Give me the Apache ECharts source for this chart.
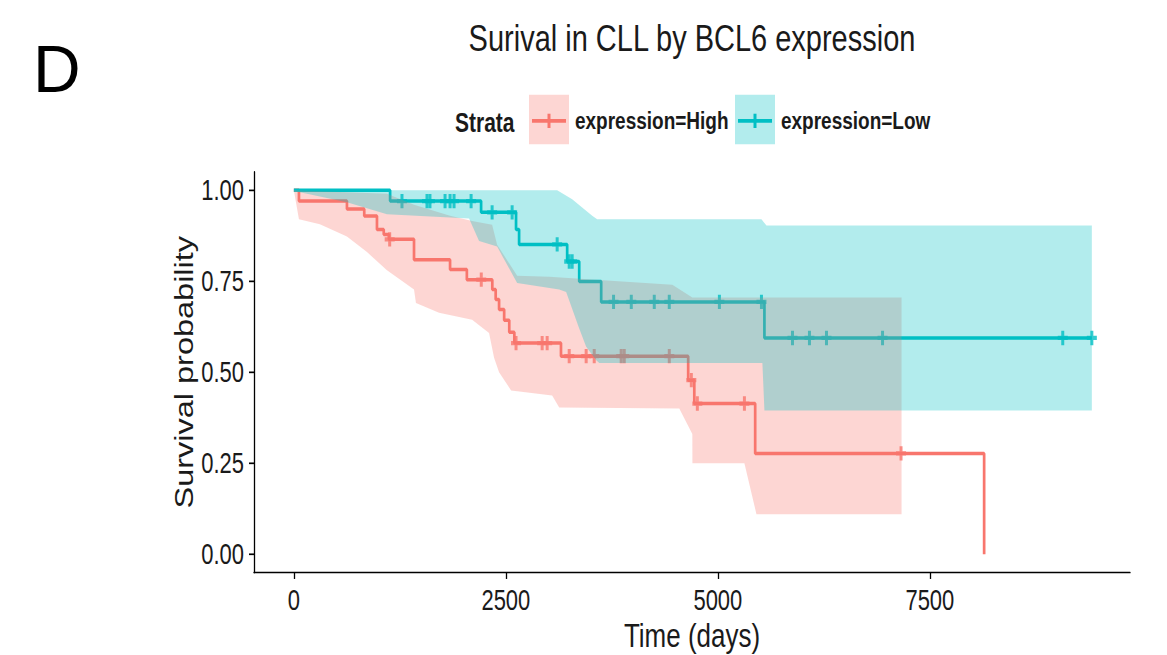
<!DOCTYPE html>
<html>
<head>
<meta charset="utf-8">
<script src="https://cdn.jsdelivr.net/npm/echarts@6/dist/echarts.min.js"></script>
<style>
html, body { margin: 0; padding: 0; background: #fff; overflow: hidden; }
#wrap { width: 1167px; height: 655px; position: relative; }
/* the source figure is stretched vertically, so the whole chart is too */
#main { width: 1167px; height: 504px; transform: scaleY(1.2996); transform-origin: 0 0; }
</style>
</head>
<body>
<div id="wrap"><div id="main"></div></div>
<script>
var xTicks = [0, 2500, 5000, 7500];
var yTicks = [0, 0.25, 0.5, 0.75, 1];
var strata = ['expression=High', 'expression=Low'];

// KM curve, [days, survival]
var highCurve = [[0, 1], [60, 0.97], [626, 0.948], [830, 0.929], [980, 0.892], [1060, 0.878], [1120, 0.865],
    [1417, 0.809], [1842, 0.782], [2040, 0.754], [2340, 0.727], [2380, 0.70], [2420, 0.672], [2480, 0.643],
    [2540, 0.61], [2600, 0.58], [3150, 0.544], [4650, 0.478], [4722, 0.414], [5440, 0.277], [8140, 0]];
var highCensor = [[1130, 0.865], [2210, 0.754], [2620, 0.58], [2928, 0.58], [2987, 0.58], [3247, 0.544],
    [3447, 0.544], [3542, 0.544], [3860, 0.544], [3896, 0.544], [4427, 0.544], [4687, 0.478], [4758, 0.414],
    [5313, 0.414], [7160, 0.277]];
var highUpper = [[0, 1], [1098, 0.99], [1417, 0.96], [1842, 0.93], [2102, 0.915], [2338, 0.905], [2397, 0.85],
    [2633, 0.765], [3011, 0.762], [4463, 0.74], [4699, 0.705], [7166, 0.705]];
var highLower = [[0, 1], [60, 0.92], [307, 0.906], [626, 0.873], [862, 0.83], [1098, 0.78], [1417, 0.727],
    [1440, 0.69], [1712, 0.663], [2102, 0.644], [2302, 0.608], [2361, 0.54], [2420, 0.50], [2562, 0.45],
    [3046, 0.436], [3129, 0.403], [4545, 0.40], [4699, 0.33], [4700, 0.25], [5313, 0.25], [5455, 0.11], [7166, 0.11]];

var lowCurve = [[0, 1], [1135, 0.97], [2208, 0.939], [2620, 0.892], [2656, 0.851], [3223, 0.804], [3365, 0.749],
    [3624, 0.693], [5549, 0.594], [9410, 0.594]];
var lowCensor = [[1275, 0.97], [1570, 0.97], [1605, 0.97], [1783, 0.97], [1842, 0.97], [1889, 0.97], [2090, 0.97],
    [2338, 0.939], [2574, 0.939], [3105, 0.851], [3247, 0.804], [3282, 0.804], [3770, 0.693], [3979, 0.693],
    [4250, 0.693], [4427, 0.693], [5018, 0.693], [5514, 0.693], [5880, 0.594], [6080, 0.594], [6281, 0.594],
    [6942, 0.594], [9067, 0.594], [9410, 0.594]];
var lowUpper = [[0, 1], [3105, 1], [3282, 0.975], [3518, 0.93], [3577, 0.92], [5514, 0.92], [5573, 0.903], [9410, 0.903]];
var lowLower = [[0, 1], [71, 0.994], [626, 0.967], [1098, 0.934], [1842, 0.925], [2066, 0.922], [2184, 0.86],
    [2397, 0.845], [2633, 0.745], [3129, 0.727], [3211, 0.72], [3365, 0.62], [3447, 0.57], [3566, 0.533],
    [3601, 0.525], [5525, 0.525], [5549, 0.395], [9410, 0.395]];

var red = '#F8766D', teal = '#00BFC4';
var redFill = 'rgba(248,118,109,0.3)', tealFill = 'rgba(0,191,196,0.3)';
var font = 'Liberation Sans, Arial, sans-serif';
var ink = '#1a1a1a';
var plus = 'path://M3.5,0h3v3.5h3.5v3h-3.5v3.5h-3v-3.5h-3.5v-3h3.5z';

// confidence band as one polygon through the axes
function band(upper, lower, fill) {
    return function (params, api) {
        var pts = upper.map(function (d) { return api.coord(d); });
        var back = lower.slice().reverse().map(function (d) { return api.coord(d); });
        return { type: 'polygon', shape: { points: pts.concat(back) }, style: { fill: fill } };
    };
}

// legend key: box, line, cross
function key(x, lineColor, boxColor, label) {
    return [
        { type: 'rect', shape: { x: x, y: 73, width: 40, height: 38 }, style: { fill: boxColor } },
        { type: 'line', shape: { x1: x + 3, y1: 93, x2: x + 37, y2: 93 }, style: { stroke: lineColor, lineWidth: 2.8 } },
        { type: 'rect', shape: { x: x + 18.5, y: 87.5, width: 3, height: 11 }, style: { fill: lineColor } },
        { type: 'text', x: x + 46, y: 93, style: { text: label, font: 'bold 19px ' + font, fill: ink, textAlign: 'left', textVerticalAlign: 'middle' } }
    ];
}

var graphics = [
    { type: 'text', x: 33, y: 53, scaleY: 1 / 1.2996, style: { text: 'D', font: '66px ' + font, fill: '#000', textAlign: 'left', textVerticalAlign: 'middle' } },
    { type: 'text', x: 692, y: 29, style: { text: 'Surival in CLL by BCL6 expression', font: '29px ' + font, fill: ink, textAlign: 'center', textVerticalAlign: 'middle' } },
    { type: 'text', x: 455, y: 94, style: { text: 'Strata', font: 'bold 21px ' + font, fill: ink, textAlign: 'left', textVerticalAlign: 'middle' } }
].concat(key(529, red, redFill, strata[0]), key(735, teal, tealFill, strata[1]));

var option = {
    animation: false,
    backgroundColor: '#fff',
    graphic: { elements: graphics },
    grid: { left: 254, right: 37, top: 132.3, bottom: 63.5, outerBoundsMode: 'none' },
    xAxis: {
        type: 'value', min: -470, max: 9860,
        name: 'Time (days)', nameLocation: 'middle', nameGap: 35, nameMoveOverlap: false,
        nameTextStyle: { fontSize: 26, color: ink, fontFamily: font },
        axisLine: { onZero: false, lineStyle: { color: '#000', width: 1.3 } },
        axisTick: { length: 5, customValues: xTicks, lineStyle: { color: '#000', width: 1.3 } },
        axisLabel: {
            customValues: xTicks, fontSize: 22, color: ink, fontFamily: font, margin: 10,
            formatter: function (v) { return String(v); }
        },
        splitLine: { show: false }
    },
    yAxis: {
        type: 'value', min: -0.05, max: 1.05,
        name: 'Survival probability', nameLocation: 'middle', nameGap: 57, nameMoveOverlap: false,
        nameTextStyle: { fontSize: 25, color: ink, fontFamily: font },
        axisLine: { show: true, onZero: false, lineStyle: { color: '#000', width: 1.3 } },
        axisTick: { show: true, length: 5, customValues: yTicks, lineStyle: { color: '#000', width: 1.3 } },
        axisLabel: {
            customValues: yTicks, fontSize: 22, color: ink, fontFamily: font, margin: 10,
            formatter: function (v) { return v.toFixed(2); }
        },
        splitLine: { show: false }
    },
    series: [
        { name: strata[0], type: 'line', step: 'end', data: highCurve, symbol: 'none', z: 2, lineStyle: { color: red, width: 2.7 } },
        { name: strata[1], type: 'line', step: 'end', data: lowCurve, symbol: 'none', z: 2, lineStyle: { color: teal, width: 2.7 } },
        { type: 'scatter', data: highCensor, symbol: plus, symbolSize: [10, 11], z: 3, itemStyle: { color: red } },
        { type: 'scatter', data: lowCensor, symbol: plus, symbolSize: [10, 11], z: 3, itemStyle: { color: teal } },
        { type: 'custom', data: [[0, 0]], renderItem: band(highUpper, highLower, redFill), z: 4, silent: true },
        { type: 'custom', data: [[0, 0]], renderItem: band(lowUpper, lowLower, tealFill), z: 5, silent: true }
    ]
};

var myChart = echarts.init(document.getElementById('main'), null, { renderer: 'svg' });
myChart.setOption(option);
</script>
</body>
</html>
